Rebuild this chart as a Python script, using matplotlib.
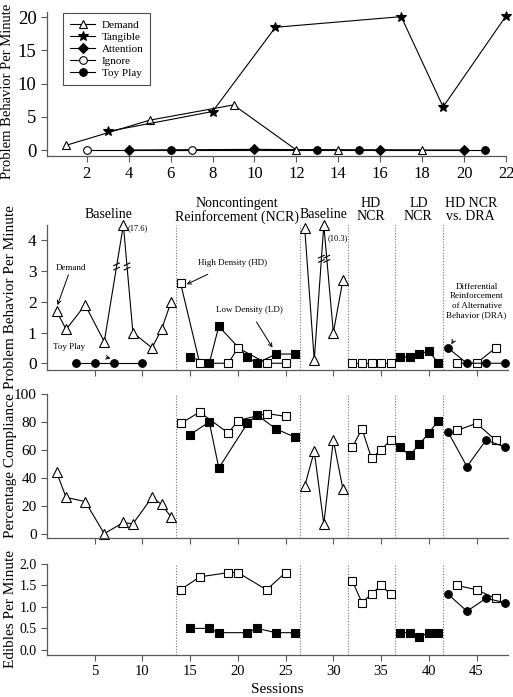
import numpy as np
import matplotlib
matplotlib.use("Agg")
import matplotlib.pyplot as plt

plt.rcParams['font.family'] = ['Liberation Serif', 'DejaVu Serif']

# ---- top panel: functional analysis (sessions 1-22)
fa_demand_x = [1, 5, 9, 12, 14, 18]
fa_demand_y = [0.7, 4.5, 6.8, 0, 0, 0]
fa_tangible_x = [3, 8, 11, 17, 19, 22]
fa_tangible_y = [2.8, 5.8, 18.5, 20.1, 6.5, 20.2]
fa_attention_x = [4, 10, 16, 20]
fa_attention_y = [0, 0.1, 0, 0]
fa_ignore_x = [2, 7]
fa_ignore_y = [0, 0]
fa_toy_x = [6, 13, 15, 21]
fa_toy_y = [0, 0, 0, 0]

# ---- treatment evaluation (sessions 1-48)
bl1_x = [1, 2, 4, 6, 8, 9, 11, 12, 13]
bl1_toy_x = [3, 5, 7, 10]
ncr_hd_x = [14, 16, 19, 20, 23, 25]
ncr_ld_x = [15, 17, 18, 21, 22, 24, 26]
bl2_x = [27, 28, 29, 30, 31]
hd_x = [32, 33, 34, 35, 36]
ld_x = [37, 38, 39, 40, 41]
dra_x = [42, 44, 46, 48]
hdv_x = [43, 45, 47]
phase_lines = [13.5, 26.5, 31.5, 36.5, 41.5]

# problem behavior per minute
pb_bl1 = [1.7, 1.1, 1.9, 0.7, 17.6, 1.0, 0.5, 1.1, 2.0]
pb_bl1_toy = [0, 0, 0, 0]
pb_ncr_hd = [2.6, 0, 0, 0.5, 0, 0]
pb_ncr_ld = [0.2, 0, 1.2, 0.2, 0, 0.3, 0.3]
pb_bl2 = [4.4, 0.1, 10.3, 1.0, 2.7]
pb_hd = [0, 0, 0, 0, 0]
pb_ld = [0.2, 0.2, 0.3, 0.4, 0]
pb_dra = [0.5, 0, 0, 0]
pb_hdv = [0, 0, 0.5]
PB_CAP = 4.5

# percentage compliance
pc_bl1 = [44, 26, 23, 0, 8, 7, 26, 21, 12]
pc_ncr_hd = [79, 87, 72, 81, 86, 84]
pc_ncr_ld = [71, 80, 47, 79, 85, 75, 69]
pc_bl2 = [34, 59, 7, 67, 32]
pc_hd = [62, 75, 54, 60, 67]
pc_ld = [62, 56, 64, 72, 81]
pc_dra = [73, 48, 67, 62]
pc_hdv = [74, 79, 67]

# edibles per minute
ed_ncr_hd = [1.4, 1.7, 1.8, 1.8, 1.4, 1.8]
ed_ncr_ld = [0.5, 0.5, 0.4, 0.4, 0.5, 0.4, 0.4]
ed_hd = [1.6, 1.1, 1.3, 1.5, 1.3]
ed_ld = [0.4, 0.4, 0.3, 0.4, 0.4]
ed_dra = [1.3, 0.9, 1.2, 1.1]
ed_hdv = [1.5, 1.4, 1.2]

W, H = 513, 697
fig = plt.figure(figsize=(W / 100, H / 100), dpi=100)


def box(l, t, r, b):
    return [l / W, 1 - b / H, (r - l) / W, (b - t) / H]


ax1 = fig.add_axes(box(47, 12, 506, 156))
ax2 = fig.add_axes(box(47, 225, 508, 370))
ax3 = fig.add_axes(box(47, 394, 508, 538))
ax4 = fig.add_axes(box(47, 564, 508, 655))

lc = 'black'
lw = 0.8
op = dict(color=lc, lw=lw, mfc='white', mec='black', mew=0.8, clip_on=False)
fp = dict(color=lc, lw=lw, mfc='black', mec='black', mew=0.8, clip_on=False)

# ---------------- top panel
ax1.plot(fa_attention_x, fa_attention_y, marker='D', ms=5, label='Attention', **fp)
ax1.plot(fa_toy_x, fa_toy_y, marker='o', ms=5.5, label='Toy Play', **fp)
ax1.plot(fa_ignore_x, fa_ignore_y, marker='o', ms=5.5, label='Ignore', **op)
ax1.plot(fa_demand_x, fa_demand_y, marker='^', ms=6, label='Demand', **op)
ax1.plot(fa_tangible_x, fa_tangible_y, marker='*', ms=7.5, label='Tangible', **fp)
handles, labels = ax1.get_legend_handles_labels()
order = ['Demand', 'Tangible', 'Attention', 'Ignore', 'Toy Play']
hl = [handles[labels.index(n)] for n in order]
leg = ax1.legend(hl, order, loc='upper left', bbox_to_anchor=(0.035, 0.99),
                 borderaxespad=0, fontsize=8, handlelength=2.3, labelspacing=0.2,
                 handletextpad=0.6, fancybox=False, edgecolor='0.3', framealpha=1,
                 borderpad=0.6)
leg.get_frame().set_linewidth(0.8)
ax1.set_xlim(0.1, 22)
ax1.set_ylim(-0.9, 20.8)
ax1.set_xticks(range(2, 23, 2))
ax1.set_yticks([0, 5, 10, 15, 20])
ax1.tick_params(axis='y', labelsize=13.5)
ax1.tick_params(axis='x', labelsize=12)
ax1.set_ylabel('Problem Behavior Per Minute', fontsize=10.5)
ax1.yaxis.set_label_coords(-0.072, 0.45)

# ---------------- problem behavior
cap = lambda v: np.minimum(np.array(v, dtype=float), PB_CAP)
ax2.plot(bl1_x, cap(pb_bl1), marker='^', ms=6.5, **op)
ax2.plot(bl1_toy_x, pb_bl1_toy, marker='o', ms=5.5, **fp)
ax2.plot(ncr_ld_x, pb_ncr_ld, marker='s', ms=6, **fp)
ax2.plot(ncr_hd_x, pb_ncr_hd, marker='s', ms=6, **op)
ax2.plot(bl2_x, cap(pb_bl2), marker='^', ms=6.5, **op)
ax2.plot(hd_x, pb_hd, marker='s', ms=6, **op)
ax2.plot(ld_x, pb_ld, marker='s', ms=6, **fp)
ax2.plot(hdv_x, pb_hdv, marker='s', ms=6, **op)
ax2.plot(dra_x, pb_dra, marker='o', ms=5.5, **fp)


def break_marks(ax, xs, ys, i, yb):
    # short double slash across segment i -> i+1 at height yb
    x0, x1 = xs[i], xs[i + 1]
    y0, y1 = ys[i], ys[i + 1]
    xb = x0 + (yb - y0) / (y1 - y0) * (x1 - x0)
    for dy in (-0.07, 0.07):
        ax.plot([xb - 0.35, xb + 0.35], [yb + dy - 0.05, yb + dy + 0.05],
                color='black', lw=0.8, solid_capstyle='butt')


c1 = cap(pb_bl1)
break_marks(ax2, bl1_x, c1, 3, 3.15)
break_marks(ax2, bl1_x, c1, 4, 3.15)
c2 = cap(pb_bl2)
break_marks(ax2, bl2_x, c2, 1, 3.4)
break_marks(ax2, bl2_x, c2, 2, 3.4)

ax2.text(8.45, 4.38, '(17.6)', fontsize=6, va='center', ha='left')
ax2.text(29.35, 4.08, '(10.3)', fontsize=6, va='center', ha='left')

apr = dict(arrowstyle='->', color='black', lw=0.7, shrinkA=0, shrinkB=1)
ax2.annotate('Demand', xy=(1.05, 1.85), xytext=(2.5, 3.1), fontsize=6.5,
             ha='center', va='center', arrowprops=apr)
ax2.annotate('Toy Play', xy=(6.8, 0.14), xytext=(2.3, 0.53), fontsize=6.5,
             ha='center', va='center', arrowprops=dict(apr, shrinkA=14))
ax2.annotate('High Density (HD)', xy=(14.5, 2.55), xytext=(19.4, 3.27), fontsize=6.5,
             ha='center', va='center', arrowprops=dict(apr, shrinkA=8))
ax2.annotate('Low Density (LD)', xy=(23.7, 0.47), xytext=(21.2, 1.72), fontsize=6.5,
             ha='center', va='center', arrowprops=dict(apr, shrinkA=4))
ax2.annotate('Differential\nReinforcement\nof Alternative\nBehavior (DRA)',
             xy=(42.3, 0.58), xytext=(45.0, 2.03), fontsize=6.5, linespacing=1.25,
             ha='center', va='center', arrowprops=dict(apr, shrinkA=16))

phase_labels = [('Baseline', 6.4, 4.84), ('Noncontingent\nReinforcement (NCR)', 19.9, 4.98),
                ('Baseline', 29.0, 4.84), ('HD\nNCR', 33.9, 5.0), ('LD\nNCR', 38.9, 5.0),
                ('HD NCR\nvs. DRA', 44.4, 5.0)]
for txt, x, y in phase_labels:
    ax2.text(x, y, txt, fontsize=10, ha='center', va='center', linespacing=1.0)

ax2.set_ylim(-0.22, 4.5)
ax2.set_yticks([0, 1, 2, 3, 4])
ax2.tick_params(axis='y', labelsize=12.5)
ax2.set_ylabel('Problem Behavior Per Minute', fontsize=11)

# ---------------- compliance
ax3.plot(bl1_x, pc_bl1, marker='^', ms=6.5, **op)
ax3.plot(ncr_ld_x, pc_ncr_ld, marker='s', ms=6, **fp)
ax3.plot(ncr_hd_x, pc_ncr_hd, marker='s', ms=6, **op)
ax3.plot(bl2_x, pc_bl2, marker='^', ms=6.5, **op)
ax3.plot(hd_x, pc_hd, marker='s', ms=6, **op)
ax3.plot(ld_x, pc_ld, marker='s', ms=6, **fp)
ax3.plot(hdv_x, pc_hdv, marker='s', ms=6, **op)
ax3.plot(dra_x, pc_dra, marker='o', ms=5.5, **fp)
ax3.set_ylim(-3.1, 100)
ax3.set_yticks([0, 20, 40, 60, 80, 100])
ax3.tick_params(axis='y', labelsize=11)
ax3.set_ylabel('Percentage Compliance', fontsize=11)

# ---------------- edibles
ax4.plot(ncr_ld_x, ed_ncr_ld, marker='s', ms=6, **fp)
ax4.plot(ncr_hd_x, ed_ncr_hd, marker='s', ms=6, **op)
ax4.plot(hd_x, ed_hd, marker='s', ms=6, **op)
ax4.plot(ld_x, ed_ld, marker='s', ms=6, **fp)
ax4.plot(hdv_x, ed_hdv, marker='s', ms=6, **op)
ax4.plot(dra_x, ed_dra, marker='o', ms=5.5, **fp)
ax4.set_ylim(-0.12, 2.0)
ax4.set_yticks([0, 0.5, 1.0, 1.5, 2.0])
ax4.set_yticklabels(['0.0', '0.5', '1.0', '1.5', '2.0'])
ax4.tick_params(axis='y', labelsize=10)
ax4.set_ylabel('Edibles Per Minute', fontsize=11)
ax4.set_xlabel('Sessions', fontsize=11, labelpad=3)

for ax in (ax2, ax3, ax4):
    ax.set_xlim(0.0, 48.3)
    ax.set_xticks(range(5, 46, 5))
    for xl in phase_lines:
        ax.axvline(xl, color='0.45', lw=0.8, ls=(0, (1, 1.5)), zorder=0)
    ax.yaxis.set_label_coords(-0.066, 0.5)
ax2.tick_params(axis='x', labelbottom=False)
ax3.tick_params(axis='x', labelbottom=False)
ax4.tick_params(axis='x', labelsize=10.5)

for ax in (ax1, ax2, ax3, ax4):
    ax.spines['top'].set_visible(False)
    ax.spines['right'].set_visible(False)
    for s in ('left', 'bottom'):
        ax.spines[s].set_color('0.35')
        ax.spines[s].set_linewidth(0.9)
    ax.tick_params(direction='out', length=4, width=0.8, color='0.35')

fig.savefig('out.png', dpi=100)
